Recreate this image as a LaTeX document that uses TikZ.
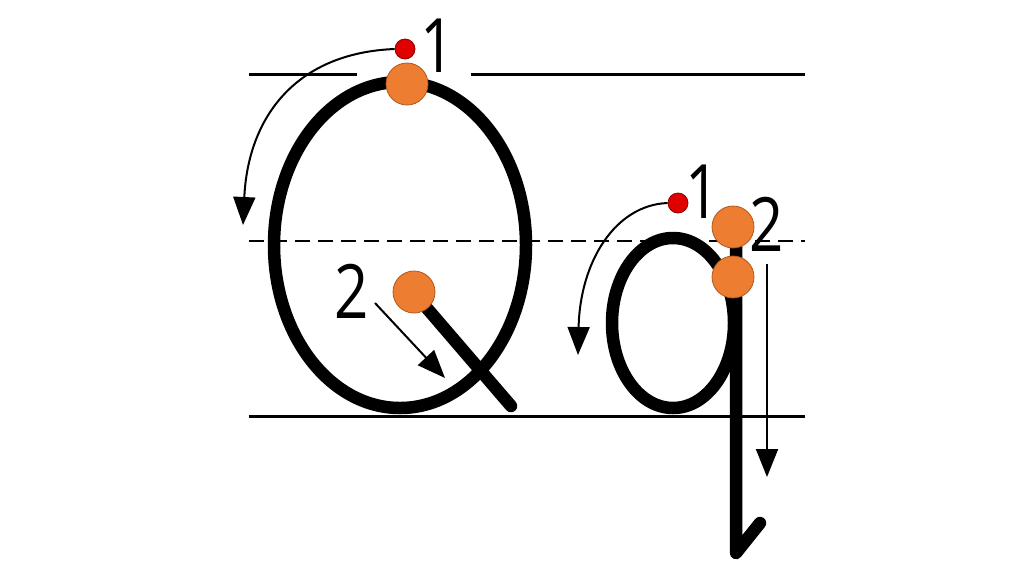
\documentclass[tikz,border=0pt]{standalone}
\usepackage{fontspec}
\setmainfont{Open Sans}
\newfontfamily\numfont{Open Sans}[FakeStretch=0.8]
\usetikzlibrary{arrows.meta}
\definecolor{dotorange}{HTML}{ED7D31}
\definecolor{dotorangeedge}{HTML}{B0581C}
\definecolor{dotred}{HTML}{E00000}
\definecolor{dotrededge}{HTML}{8A0000}
\tikzset{
  guide/.style={line width=3pt, black},
  guidedash/.style={line width=2pt, black, dash pattern=on 15pt off 8pt},
  letter/.style={line width=12.5pt, black, line cap=round, line join=round},
  startdot/.style={circle, fill=dotorange, draw=dotorangeedge, line width=0.8pt, minimum size=42pt, inner sep=0pt},
  reddot/.style={circle, fill=dotred, draw=dotrededge, line width=0.8pt, minimum size=20pt, inner sep=0pt},
  dirarrow/.style={line width=2pt, -{Triangle[length=28pt,width=22pt]}},
  numlabel/.style={inner sep=0pt, anchor=base, font=\numfont\fontsize{75}{75}\selectfont}
}
\begin{document}
\begin{tikzpicture}[x=1pt,y=-1pt]
\useasboundingbox (0,0) rectangle (1024,574);
% guide lines
\draw[guide] (249,74) -- (357,74);
\draw[guide] (471,74) -- (805,74);
\draw[guidedash] (249,241) -- (805,241);
\draw[guide] (249,416) -- (805,416);
% capital Q
\draw[letter] (400,245) ellipse [x radius=126, y radius=163];
\draw[letter] (413,292) -- (511,406);
% small q
\draw[letter] (673,323) ellipse [x radius=61, y radius=85];
\draw[letter] (736,235) -- (736,553) -- (760,523);
% start dots
\node[startdot] (qa) at (407,84) {};
\node[startdot] (qb) at (414,292) {};
\node[startdot] (sa) at (733,227) {};
\node[startdot] (sb) at (733,277) {};
\node[reddot] (ra) at (405,49) {};
\node[reddot] (rb) at (678,203) {};
% arrows
\coordinate (a1end) at (243,225);
\draw[dirarrow] (ra.west) .. controls (295,53) and (248,118) .. (a1end);
\coordinate (a2s) at (375,303);
\coordinate (a2e) at (445,378);
\draw[dirarrow] (a2s) -- (a2e);
\coordinate (b1end) at (578,355);
\draw[dirarrow] (rb.west) .. controls (615,205) and (580,262) .. (b1end);
\coordinate (b2s) at (767,264);
\coordinate (b2e) at (767,477);
\draw[dirarrow] (b2s) -- (b2e);
% numbers
\node[numlabel] (n1) at (438,72) {1};
\node[numlabel] (n2) at (352,318) {2};
\node[numlabel] (m1) at (703,218) {1};
\node[numlabel] (m2) at (767,251) {2};
\end{tikzpicture}
\end{document}
